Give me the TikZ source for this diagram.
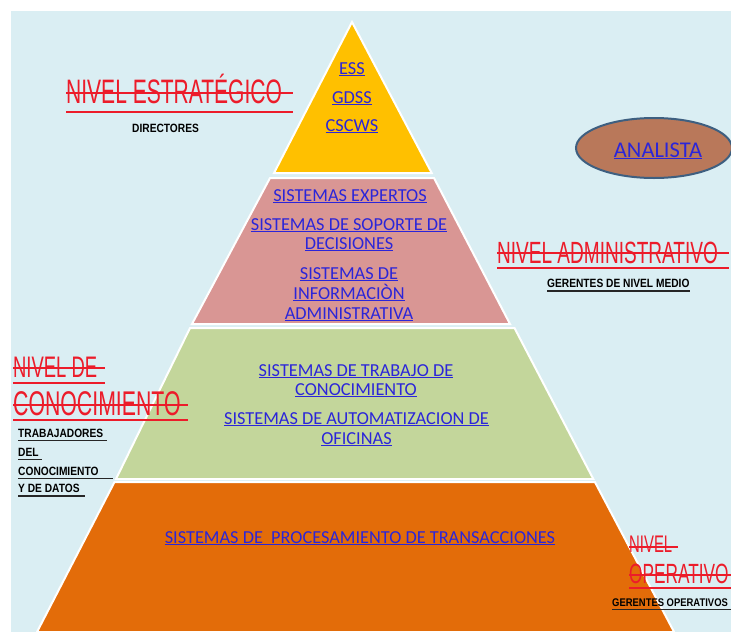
\documentclass[tikz,border=0pt]{standalone}
\usepackage{fontspec}
\usetikzlibrary{shapes.geometric}
\setmainfont{Carlito}
\newfontfamily\decofont[FakeStretch=0.62]{Liberation Sans}
\newfontfamily\decobold[FakeStretch=0.85]{Liberation Sans}
\definecolor{bgblue}{HTML}{DAEEF3}
\definecolor{ylw}{HTML}{FFC000}
\definecolor{pnk}{HTML}{D99694}
\definecolor{grn}{HTML}{C3D69B}
\definecolor{org}{HTML}{E36C09}
\definecolor{ellfill}{HTML}{B9785A}
\definecolor{ellborder}{HTML}{3E5F80}
\definecolor{linkblue}{HTML}{2B25D9}
\definecolor{lblred}{HTML}{EC1C2A}
\newcommand\lnk[1]{\setbox0\hbox{#1}\rlap{\rule[-2.3pt]{\wd0}{1.3pt}}\box0}
\tikzset{
  layer/.style={draw=white, line width=2pt},
  link/.style={text=linkblue, font=\fontsize{18.3}{20}\selectfont, inner sep=0pt, anchor=base},
  redlbl/.style={text=lblred, inner sep=0pt, anchor=base west},
  redline/.style={draw=lblred, line width=1.1pt},
  blklbl/.style={text=black, font=\decobold\bfseries\fontsize{12}{14}\selectfont, inner sep=0pt, anchor=base west},
  blkline/.style={draw=black!85, line width=1.6pt}
}
\begin{document}
\begin{tikzpicture}[x=1pt,y=-1pt]
\useasboundingbox (0,0) rectangle (731,632);
\fill[white] (0,0) rectangle (731,632);
\fill[bgblue] (11,11) rectangle (731,632);
% pyramid layers
\filldraw[layer, fill=ylw] (352,22) -- (431.7,173) -- (274,173) -- cycle;
\filldraw[layer, fill=pnk] (270,178) -- (434,178) -- (510,324) -- (192,324) -- cycle;
\filldraw[layer, fill=grn] (190,328) -- (514.5,328) -- (593.3,479) -- (116,479) -- cycle;
\filldraw[layer, fill=org] (114.5,482) -- (594.9,482) -- (674.1,632) -- (37,632) -- cycle;
% pyramid texts
\node[link] (ess) at (352,74) {\lnk{ESS}};
\node[link] (gdss) at (352,103) {\lnk{GDSS}};
\node[link] (cscws) at (352,131) {\lnk{CSCWS}};
\node[link] (exp) at (350,201) {\lnk{SISTEMAS EXPERTOS}};
\node[link] (sop1) at (349,230) {\lnk{SISTEMAS DE SOPORTE DE}};
\node[link] (sop2) at (349,249) {\lnk{DECISIONES}};
\node[link] (inf1) at (349,279) {\lnk{SISTEMAS DE}};
\node[link] (inf2) at (349,299) {\lnk{INFORMACIÒN}};
\node[link] (inf3) at (349,319) {\lnk{ADMINISTRATIVA}};
\node[link] (tra1) at (356,376) {\lnk{SISTEMAS DE TRABAJO DE}};
\node[link] (tra2) at (356,395) {\lnk{CONOCIMIENTO}};
\node[link] (aut1) at (356.5,424) {\lnk{SISTEMAS DE AUTOMATIZACION DE}};
\node[link] (aut2) at (356.5,444) {\lnk{OFICINAS}};
\node[link] (tps) at (360,543) {\lnk{SISTEMAS DE\ \ PROCESAMIENTO DE TRANSACCIONES}};
% analista
\node[ellipse, draw=ellborder, fill=ellfill, line width=2pt, minimum width=156, minimum height=60, inner sep=0pt] (ell) at (654,148) {};
\node[link, font=\fontsize{22.5}{24}\selectfont] (ana) at (658,157) {\lnk{ANALISTA}};
% red level labels
\node[redlbl, font=\decofont\fontsize{33.9}{36}\selectfont] (estr) at (66,103) {NIVEL ESTRATÉGICO};
\draw[redline] (66,93) -- (293,93);
\draw[redline] (66,112) -- (293,112);
\node[redlbl, font=\decofont\fontsize{30.7}{33}\selectfont] (adm) at (497,263) {NIVEL ADMINISTRATIVO};
\draw[redline] (497,253) -- (729,253);
\draw[redline] (497,268) -- (729,268);
\node[redlbl, font=\decofont\fontsize{29.7}{32}\selectfont] (con1) at (13,377) {NIVEL DE};
\draw[redline] (13,368) -- (105,368);
\draw[redline] (13,383) -- (105,383);
\node[redlbl, font=\decofont\fontsize{34.3}{36}\selectfont] (con2) at (13,415) {CONOCIMIENTO};
\draw[redline] (13,405) -- (188,405);
\draw[redline] (13,420) -- (188,420);
\node[redlbl, font=\decofont\fontsize{24}{26}\selectfont] (op1) at (629,552) {NIVEL};
\draw[redline] (629,547) -- (678,547);
\node[redlbl, font=\decofont\fontsize{27.8}{30}\selectfont] (op2) at (629,583) {OPERATIVO};
\draw[redline] (629,575) -- (731,575);
\draw[redline] (629,588) -- (731,588);
% black sub labels
\node[blklbl] (dir) at (132,132) {DIRECTORES};
\node[blklbl] (ger) at (547,287) {GERENTES DE NIVEL MEDIO};
\draw[blkline] (547,291) -- (690,291);
\node[blklbl] (tr1) at (18,437) {TRABAJADORES};
\draw[blkline] (18,440.5) -- (107,440.5);
\node[blklbl] (tr2) at (18,456) {DEL};
\draw[blkline] (18,459.5) -- (42,459.5);
\node[blklbl] (tr3) at (18,475) {CONOCIMIENTO};
\draw[blkline] (18,478.5) -- (113,478.5);
\node[blklbl] (tr4) at (18,492) {Y DE DATOS};
\draw[blkline] (18,496) -- (85,496);
\node[blklbl, font=\decobold\bfseries\fontsize{11.1}{13}\selectfont] (gop) at (612,606) {GERENTES OPERATIVOS};
\draw[blkline] (612,609.5) -- (731,609.5);
\end{tikzpicture}
\end{document}
